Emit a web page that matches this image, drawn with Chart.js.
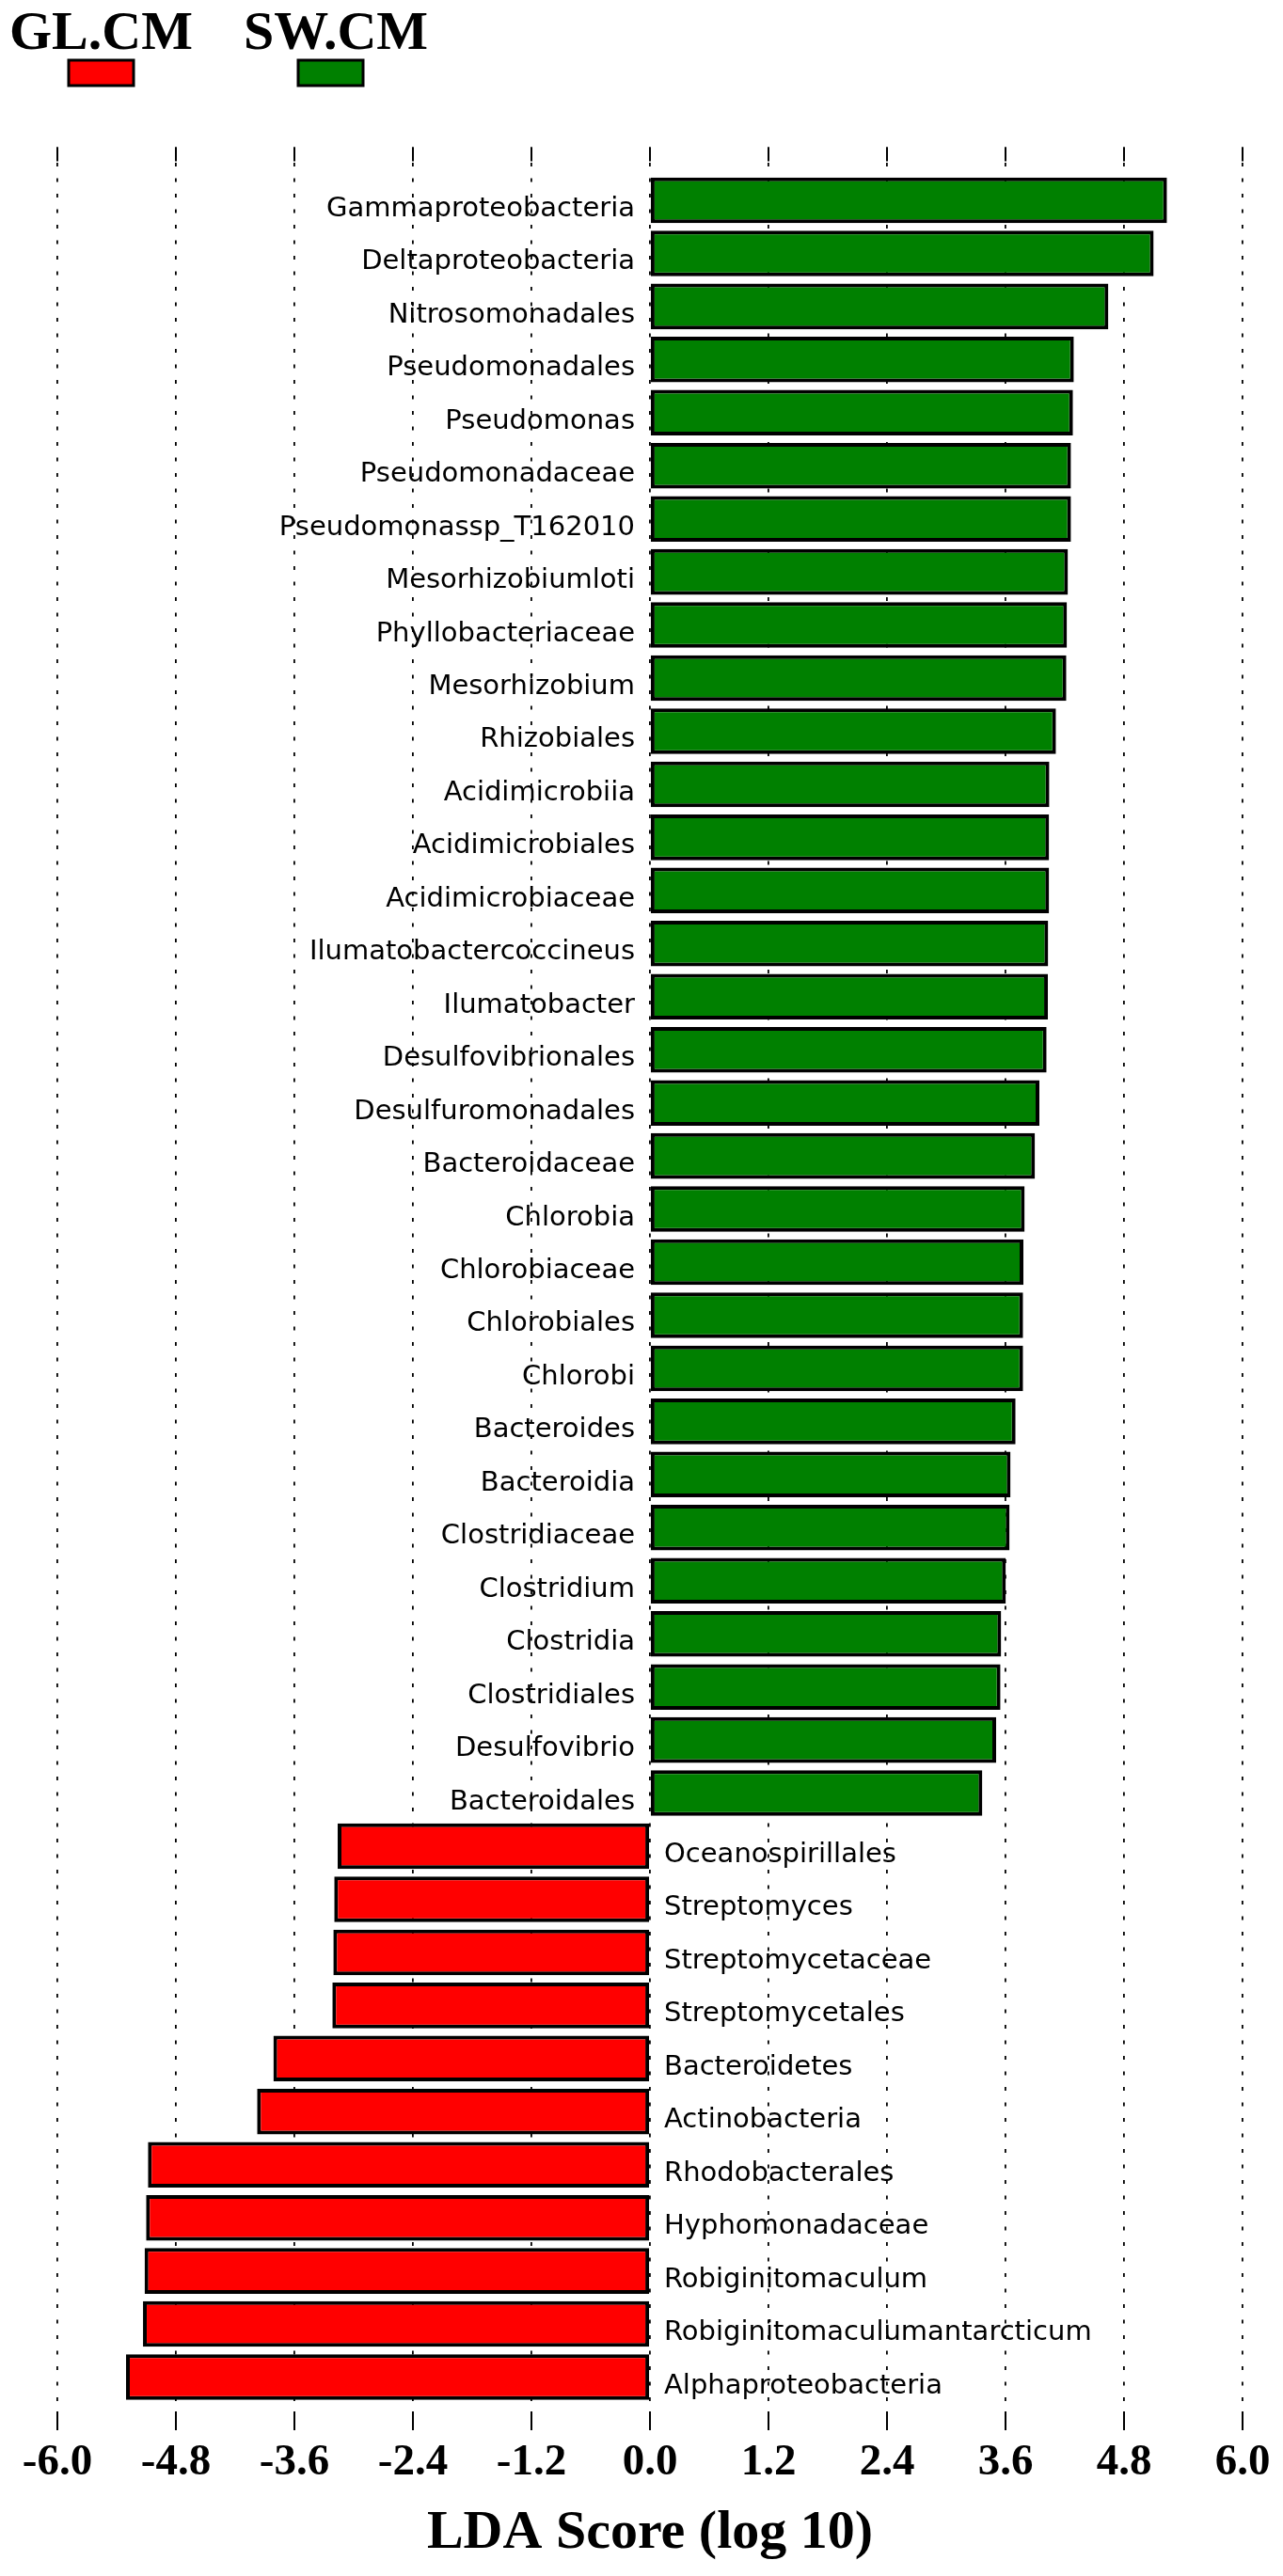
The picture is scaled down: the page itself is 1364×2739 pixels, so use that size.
<!DOCTYPE html>
<html>
<head>
<meta charset="utf-8">
<script src="https://cdn.jsdelivr.net/npm/chart.js@4.4.1/dist/chart.umd.min.js"></script>
<style>
  html, body { margin: 0; padding: 0; background: #fff; }
  #wrap { width: 1364px; height: 2739px; position: relative; }
</style>
</head>
<body>
<div id="wrap"><canvas id="ldaChart"></canvas></div>
<script>
// taxa from top to bottom, LDA score (negative = GL.CM, positive = SW.CM)
const taxa = [
    'Gammaproteobacteria', 'Deltaproteobacteria', 'Nitrosomonadales', 'Pseudomonadales',
    'Pseudomonas', 'Pseudomonadaceae', 'Pseudomonassp_T162010', 'Mesorhizobiumloti',
    'Phyllobacteriaceae', 'Mesorhizobium', 'Rhizobiales', 'Acidimicrobiia',
    'Acidimicrobiales', 'Acidimicrobiaceae', 'Ilumatobactercoccineus', 'Ilumatobacter',
    'Desulfovibrionales', 'Desulfuromonadales', 'Bacteroidaceae', 'Chlorobia',
    'Chlorobiaceae', 'Chlorobiales', 'Chlorobi', 'Bacteroides',
    'Bacteroidia', 'Clostridiaceae', 'Clostridium', 'Clostridia',
    'Clostridiales', 'Desulfovibrio', 'Bacteroidales',
    'Oceanospirillales', 'Streptomyces', 'Streptomycetaceae', 'Streptomycetales',
    'Bacteroidetes', 'Actinobacteria', 'Rhodobacterales', 'Hyphomonadaceae',
    'Robiginitomaculum', 'Robiginitomaculumantarcticum', 'Alphaproteobacteria'
];

const ldaScores = [
    5.235, 5.10, 4.641, 4.292,
    4.283, 4.263, 4.263, 4.232,
    4.222, 4.216, 4.111, 4.044,
    4.041, 4.041, 4.032, 4.029,
    4.016, 3.943, 3.898, 3.794,
    3.781, 3.778, 3.778, 3.702,
    3.651, 3.641, 3.603, 3.556,
    3.549, 3.505, 3.365,
    -3.162, -3.197, -3.206, -3.216,
    -3.813, -3.978, -5.083, -5.102,
    -5.117, -5.133, -5.305
];

const groups = ['GL.CM', 'SW.CM'];
const groupColors = ['#ff0000', '#008000'];

const xTicks = [-6.0, -4.8, -3.6, -2.4, -1.2, 0.0, 1.2, 2.4, 3.6, 4.8, 6.0];

const barColors = ldaScores.map(v => v < 0 ? groupColors[0] : groupColors[1]);

// names next to the bars, on the other side of zero
const taxaLabels = {
    id: 'taxaLabels',
    afterDatasetsDraw(chart) {
        const ctx = chart.ctx;
        const x = chart.scales.x;
        const y = chart.scales.y;
        const zero = x.getPixelForValue(0);
        ctx.save();
        ctx.font = '29px "DejaVu Sans"';
        ctx.fillStyle = '#000';
        ctx.textBaseline = 'alphabetic';
        taxa.forEach((name, i) => {
            const py = y.getPixelForValue(i) + 17;
            if (ldaScores[i] >= 0) {
                ctx.textAlign = 'right';
                ctx.fillText(name, zero - 16, py);
            } else {
                ctx.textAlign = 'left';
                ctx.fillText(name, zero + 15, py);
            }
        });
        ctx.restore();
    }
};

// solid tick marks at top and bottom of every grid line
const edgeTicks = {
    id: 'edgeTicks',
    afterDraw(chart) {
        const ctx = chart.ctx;
        const x = chart.scales.x;
        const area = chart.chartArea;
        ctx.save();
        ctx.strokeStyle = '#000';
        ctx.lineWidth = 2;
        xTicks.forEach(t => {
            const px = Math.round(x.getPixelForValue(t));
            ctx.beginPath();
            ctx.moveTo(px, area.top);
            ctx.lineTo(px, area.top + 15);
            ctx.moveTo(px, area.bottom - 20);
            ctx.lineTo(px, area.bottom);
            ctx.stroke();
        });
        ctx.restore();
    }
};

// class legend: name above a small coloured box
const classLegend = {
    id: 'classLegend',
    afterDraw(chart) {
        const ctx = chart.ctx;
        const textX = [10, 259];
        const boxX = [73, 317];
        ctx.save();
        ctx.font = 'bold 58px "Liberation Serif"';
        ctx.textAlign = 'left';
        ctx.textBaseline = 'alphabetic';
        groups.forEach((g, i) => {
            ctx.fillStyle = '#000';
            ctx.fillText(g, textX[i], 52);
            ctx.fillStyle = groupColors[i];
            ctx.fillRect(boxX[i], 64, 69, 27);
            ctx.strokeStyle = '#000';
            ctx.lineWidth = 3;
            ctx.strokeRect(boxX[i], 64, 69, 27);
        });
        ctx.restore();
    }
};

new Chart(document.getElementById('ldaChart').getContext('2d'), {
    type: 'bar',
    data: {
        datasets: [{
            label: 'LDA',
            data: ldaScores.map((v, i) => ({ x: v, y: i })),
            backgroundColor: barColors,
            borderColor: '#000',
            borderWidth: 4,
            borderSkipped: false,
            categoryPercentage: 1,
            barPercentage: 0.86
        }]
    },
    options: {
        indexAxis: 'y',
        responsive: true,
        maintainAspectRatio: false,
        animation: false,
        devicePixelRatio: 1,
        layout: {
            padding: { top: 156.5, left: 61, right: 43, bottom: 0 }
        },
        plugins: {
            legend: { display: false },
            tooltip: { enabled: false }
        },
        scales: {
            x: {
                type: 'linear',
                min: -6,
                max: 6,
                z: 1,
                afterBuildTicks: scale => { scale.ticks = xTicks.map(v => ({ value: v })); },
                ticks: {
                    padding: 7,
                    color: '#000',
                    font: { family: 'Liberation Serif', size: 47, weight: 'bold' },
                    callback: v => v.toFixed(1)
                },
                grid: {
                    color: '#000',
                    lineWidth: 1.8,
                    drawTicks: false
                },
                border: { display: false, dash: [4, 12.5] },
                title: {
                    display: true,
                    text: 'LDA Score (log 10)',
                    color: '#000',
                    font: { family: 'Liberation Serif', size: 58, weight: 'bold' },
                    padding: { top: 5, bottom: 10 }
                }
            },
            y: {
                type: 'linear',
                min: -1,
                max: 42,
                offset: false,
                reverse: true,
                display: false
            }
        }
    },
    plugins: [taxaLabels, edgeTicks, classLegend]
});
</script>
</body>
</html>
